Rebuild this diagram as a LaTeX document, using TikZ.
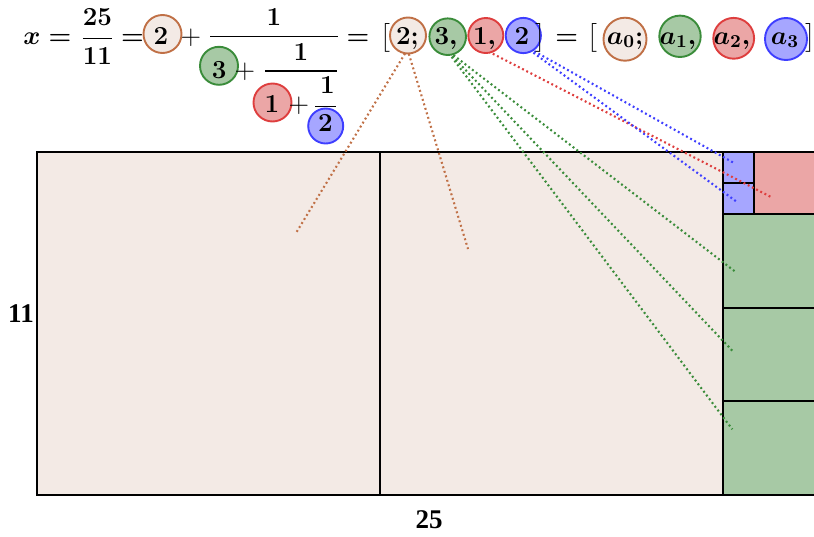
\RequirePackage{fix-cm}
\documentclass[tikz,border=0pt]{standalone}
\usepackage{amsmath}
\usepackage{fontspec}
\newfontfamily\labfont{Liberation Serif}
\definecolor{beigeF}{RGB}{243,234,229}
\definecolor{brownL}{RGB}{192,112,70}
\definecolor{greenF}{RGB}{167,201,165}
\definecolor{greenL}{RGB}{58,140,58}
\definecolor{redF}{RGB}{235,166,166}
\definecolor{redL}{RGB}{222,62,62}
\definecolor{blueF}{RGB}{166,166,255}
\definecolor{blueL}{RGB}{62,62,255}
\pgfdeclarelayer{back}
\pgfdeclarelayer{mid}
\pgfsetlayers{back,mid,main}
\begin{document}
\begin{tikzpicture}[x=0.5pt,y=-0.5pt,
  mt/.style={inner sep=0pt, anchor=base, font=\fontsize{13}{15}\selectfont\boldmath},
  pl/.style={inner sep=0pt, anchor=base, font=\fontsize{13.5}{15}\selectfont},
  circ/.style={circle, draw, line width=0.95pt, inner sep=0pt},
  sq/.style={draw=black, line width=1pt, inner sep=0pt, outer sep=0pt},
  link/.style={line width=1.05pt, dash pattern=on 0.95pt off 1.4pt},
  fbar/.style={line width=0.65pt},
  lab/.style={inner sep=0pt, font=\labfont\bfseries\fontsize{13.5}{15}\selectfont}]
\useasboundingbox (0,0) rectangle (814,536);
\clip (0,0) rectangle (814,536);

% ---------- squares ----------
\begin{pgfonlayer}{back}
\node[sq, fill=beigeF, minimum width=171.5pt, minimum height=171.5pt] (s0) at (208.5,323.5) {};
\node[sq, fill=beigeF, minimum width=171.5pt, minimum height=171.5pt] (s1) at (551.5,323.5) {};
\node[sq, fill=greenF, minimum width=46.77pt, minimum height=46.77pt] (g1) at (769.8,261.2) {};
\node[sq, fill=greenF, minimum width=46.77pt, minimum height=46.77pt] (g2) at (769.8,354.7) {};
\node[sq, fill=greenF, minimum width=46.77pt, minimum height=46.77pt] (g3) at (769.8,448.2) {};
\node[sq, fill=redF, minimum width=31.18pt, minimum height=31.18pt] (rq) at (785.4,183.2) {};
\node[sq, fill=blueF, minimum width=15.59pt, minimum height=15.59pt] (b1) at (738.6,167.6) {};
\node[sq, fill=blueF, minimum width=15.59pt, minimum height=15.59pt] (b2) at (738.6,198.8) {};
\end{pgfonlayer}

\node[lab] (l11) at (21,314) {11};
\node[lab] (l25) at (429,519.5) {25};

% ---------- circles ----------
\node[circ, draw=brownL, fill=beigeF, minimum size=19pt] (f0) at (162.5,34) {};
\node[circ, draw=greenL, fill=greenF, minimum size=19pt] (f1) at (219,65.8) {};
\node[circ, draw=redL, fill=redF, minimum size=19pt] (f2) at (272.5,102.5) {};
\node[circ, draw=blueL, fill=blueF, minimum size=17.5pt] (f3) at (325.7,126) {};

\node[circ, draw=brownL, fill=beigeF, minimum size=18pt] (c0) at (408,35.5) {};
\node[circ, draw=greenL, fill=greenF, minimum size=18.3pt] (c1) at (447.7,36.7) {};
\node[circ, draw=redL, fill=redF, minimum size=17.5pt] (c2) at (485.8,35.5) {};
\node[circ, draw=blueL, fill=blueF, minimum size=17.6pt] (c3) at (523.3,35.5) {};

\node[circ, draw=brownL, fill=beigeF, minimum size=21.5pt] (a0) at (625,39.2) {};
\node[circ, draw=greenL, fill=greenF, minimum size=20.7pt] (a1) at (680,36.3) {};
\node[circ, draw=redL, fill=redF, minimum size=20.4pt] (a2) at (733.7,38.3) {};
\node[circ, draw=blueL, fill=blueF, minimum size=21pt] (a3) at (786,39) {};

% ---------- formula text ----------
\node[mt] (tx) at (32,44.5) {$x$};
\node[mt] (teq1) at (60,44.5) {$=$};
\node[mt] (tfr) at (97.5,44.5) {$\dfrac{25}{11}$};
\node[mt] (teq2) at (132.5,44.5) {$=$};
\node[mt] (td0) at (161,44.5) {$2$};
\node[pl] (tp1) at (191,44.5) {$+$};
\node[mt] (tn1) at (274,25.5) {$1$};
\node[mt] (td1) at (219.2,78.3) {$3$};
\node[pl] (tp2) at (245,78) {$+$};
\node[mt] (tn2) at (301,60) {$1$};
\node[mt] (td2) at (272,112) {$1$};
\node[pl] (tp3) at (299,112.5) {$+$};
\node[mt] (tn3) at (327.5,93.3) {$1$};
\node[mt] (td3) at (325.5,131.7) {$2$};
\coordinate (bar1a) at (210,36.8); \coordinate (bar1b) at (337.8,36.8);
\coordinate (bar2a) at (265,71); \coordinate (bar2b) at (336.5,71);
\coordinate (bar3a) at (315,106.5); \coordinate (bar3b) at (335.5,106.5);
\draw[fbar] (bar1a) -- (bar1b);
\draw[fbar] (bar2a) -- (bar2b);
\draw[fbar] (bar3a) -- (bar3b);

\node[mt] (teq3) at (358,44) {$=$};
\node[mt] (tlb1) at (385,44) {$\bigl[$};
\node[mt] (t0) at (407.5,44) {$2;$};
\node[mt] (t1) at (446,44) {$3,$};
\node[mt] (t2) at (484.5,44) {$1,$};
\node[mt] (t3) at (522,44) {$2$};
\node[mt] (trb1) at (540,44) {$\bigr]$};
\node[mt] (teq4) at (566.7,44) {$=$};
\node[mt] (tlb2) at (592.5,44) {$\bigl[$};
\node[mt] (ta0) at (625,44) {$a_0;$};
\node[mt] (ta1) at (678,44) {$a_1,$};
\node[mt] (ta2) at (732,44) {$a_2,$};
\node[mt] (ta3) at (785,44) {$a_3$};
\node[mt] (trb2) at (810.5,44) {$\bigr]$};

% ---------- dotted links ----------
\coordinate (e00) at (296,233);
\coordinate (e01) at (468,249);
\coordinate (e10) at (735.7,272);
\coordinate (e11) at (733.3,351.7);
\coordinate (e12) at (732.3,429.3);
\coordinate (e20) at (771,197);
\coordinate (e30) at (734,163);
\coordinate (e31) at (737,202);
\begin{pgfonlayer}{mid}
\draw[link, brownL] (t0.south) -- (e00);
\draw[link, brownL] (t0.south) -- (e01);
\draw[link, greenL] (t1.south) -- (e10);
\draw[link, greenL] (t1.south) -- (e11);
\draw[link, greenL] (t1.south) -- (e12);
\draw[link, redL] (t2.south) -- (e20);
\draw[link, blueL] (t3.south) -- (e30);
\draw[link, blueL] (t3.south) -- (e31);
\end{pgfonlayer}
\end{tikzpicture}
\end{document}
